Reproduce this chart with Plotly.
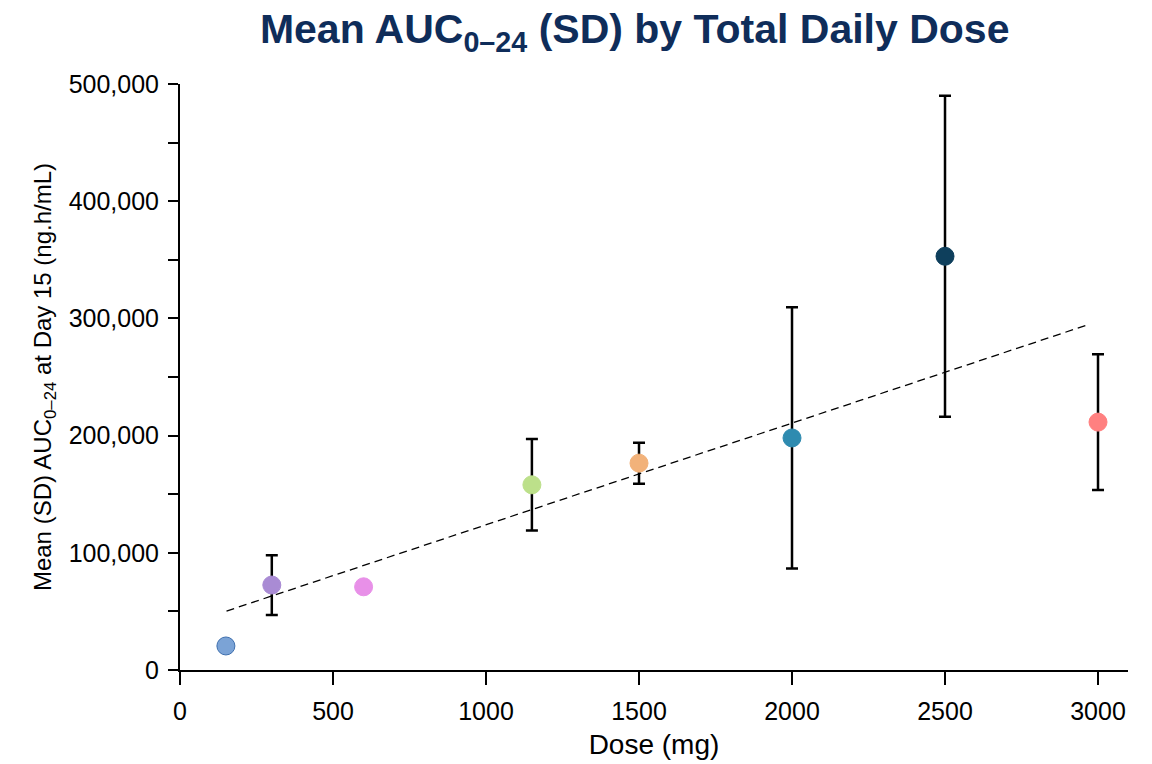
import plotly.graph_objects as go

doses = [150, 300, 600, 1150, 1500, 2000, 2500, 3000]
mean_auc = [20500, 72500, 71000, 158000, 176500, 198000, 353000, 211500]
sd_auc = [2500, 25500, 3500, 39000, 17500, 111500, 137000, 58000]
colors = ["#7BA3D6", "#A98BD4", "#E890E8", "#BCE08A", "#F2B27A", "#2E8BB0", "#0E3F5C", "#FF8080"]
outline = ["#3E6FAE", "#A98BD4", "#E890E8", "#BCE08A", "#F2B27A", "#2E8BB0", "#0E3F5C", "#FF8080"]
trend_x = [152, 2972]
trend_y = [50300, 295000]

fig = go.Figure()
fig.add_trace(go.Scatter(x=trend_x, y=trend_y, mode="lines",
                         line=dict(color="black", width=1.3, dash="8px,5px"),
                         showlegend=False, hoverinfo="skip"))
for x, y, sd, c, oc in zip(doses, mean_auc, sd_auc, colors, outline):
    fig.add_trace(go.Scatter(
        x=[x], y=[y], mode="markers",
        marker=dict(size=18, color=c, line=dict(color=oc, width=1)),
        error_y=dict(type="data", array=[sd], visible=True, color="black",
                     thickness=2.5, width=6),
        showlegend=False))

fig.update_layout(
    width=1152, height=764,
    paper_bgcolor="white", plot_bgcolor="white",
    margin=dict(l=172, r=32, t=76, b=102),
    title=dict(text="<b>Mean AUC<sub>0–24</sub> (SD) by Total Daily Dose</b>",
               x=0.544, xanchor="center", y=0.9725, yanchor="middle",
               font=dict(family="Liberation Sans, Arial", size=41, color="#0F2D5A")),
    font=dict(family="Liberation Sans, Arial", color="black"),
)
fig.update_xaxes(range=[0, 3098], tickvals=[0, 500, 1000, 1500, 2000, 2500, 3000],
                 ticks="outside", ticklen=13, tickwidth=2, tickcolor="black",
                 ticklabelstandoff=5,
                 showline=True, linecolor="black", linewidth=2, showgrid=False, zeroline=False,
                 tickfont=dict(size=25),
                 title=dict(text="Dose (mg)", standoff=10, font=dict(size=28)))
fig.update_yaxes(range=[0, 500000], tickvals=[0, 100000, 200000, 300000, 400000, 500000],
                 tickformat=",d",
                 ticks="outside", ticklen=10, tickwidth=2, tickcolor="black",
                 ticklabelstandoff=4,
                 minor=dict(tickvals=[50000, 150000, 250000, 350000, 450000], ticks="outside",
                            ticklen=10, tickwidth=2, tickcolor="black"),
                 showline=True, linecolor="black", linewidth=2, showgrid=False, zeroline=False,
                 tickfont=dict(size=25),
                 title=dict(text="Mean (SD) AUC<sub>0–24</sub> at Day 15 (ng.h/mL)", standoff=10,
                            font=dict(size=24)))
fig.add_shape(type="line", xref="paper", yref="paper", x0=0, x1=0, y0=0, y1=-0.017,
              line=dict(color="black", width=2))

fig.write_html("out.html")
